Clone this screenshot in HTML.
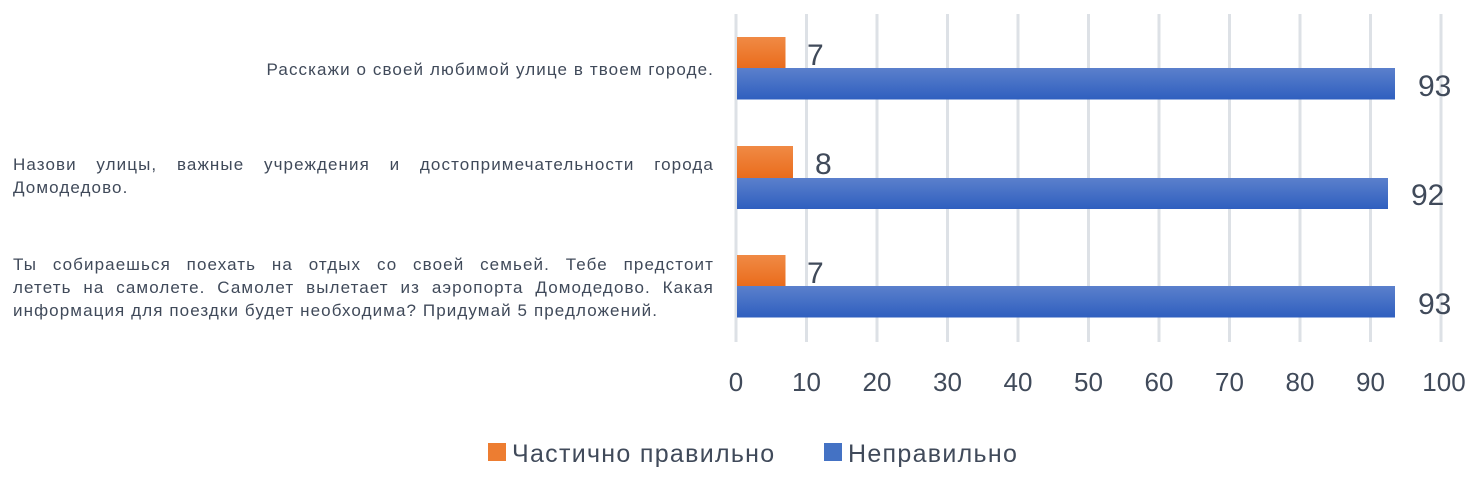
<!DOCTYPE html>
<html><head><meta charset="utf-8"><style>
body{margin:0;background:#fff;width:1474px;height:478px;overflow:hidden;font-family:"Liberation Sans","DejaVu Sans",sans-serif}
.lab{position:absolute;font-size:17px;line-height:23px;color:#404a5a;letter-spacing:1.1px}
.j{text-align:justify;text-align-last:justify}
</style></head><body>
<svg width="1474" height="478" style="position:absolute;left:0;top:0">
<defs>
<linearGradient id="b" x1="0" y1="0" x2="0" y2="1"><stop offset="0" stop-color="#5b80cc"/><stop offset="1" stop-color="#2f5fbf"/></linearGradient>
<linearGradient id="o" x1="0" y1="0" x2="0" y2="1"><stop offset="0" stop-color="#f08a45"/><stop offset="1" stop-color="#ea6c1c"/></linearGradient>
</defs>
<g fill="#dde1e6">
<rect x="734.5" y="14" width="3" height="328"/><rect x="805" y="14" width="3" height="328"/><rect x="875.5" y="14" width="3" height="328"/><rect x="946" y="14" width="3" height="328"/><rect x="1016.5" y="14" width="3" height="328"/><rect x="1087" y="14" width="3" height="328"/><rect x="1157.5" y="14" width="3" height="328"/><rect x="1228" y="14" width="3" height="328"/><rect x="1298.5" y="14" width="3" height="328"/><rect x="1369" y="14" width="3" height="328"/><rect x="1439.5" y="14" width="3" height="328"/>
</g>
<rect x="737" y="37" width="48.5" height="31" fill="url(#o)"/>
<rect x="737" y="68" width="658" height="31.5" fill="url(#b)"/>
<rect x="737" y="146" width="56" height="32" fill="url(#o)"/>
<rect x="737" y="178" width="651" height="31" fill="url(#b)"/>
<rect x="737" y="255" width="48.5" height="31" fill="url(#o)"/>
<rect x="737" y="286" width="658" height="31.5" fill="url(#b)"/>
<g font-size="30" fill="#404a5a">
<text x="807" y="65">7</text><text x="1418" y="96">93</text>
<text x="815" y="174">8</text><text x="1411" y="205">92</text>
<text x="807" y="283">7</text><text x="1418" y="314">93</text>
</g>
<g font-size="26" fill="#404a5a" text-anchor="middle">
<text x="736" y="391">0</text><text x="806.5" y="391">10</text><text x="877" y="391">20</text><text x="947.5" y="391">30</text><text x="1018" y="391">40</text><text x="1088.5" y="391">50</text><text x="1159" y="391">60</text><text x="1229.5" y="391">70</text><text x="1300" y="391">80</text><text x="1370.5" y="391">90</text><text x="1444" y="391">100</text>
</g>
<rect x="488" y="443" width="18" height="18" fill="#ed7d31"/>
<text x="512" y="462" font-size="25" letter-spacing="1.3" fill="#404a5a">Частично правильно</text>
<rect x="824" y="443" width="18" height="18" fill="#4472c4"/>
<text x="848" y="462" font-size="25" letter-spacing="1.3" fill="#404a5a">Неправильно</text>
</svg>
<div class="lab" style="left:200px;top:58px;width:514px;text-align:right">Расскажи о своей любимой улице в твоем городе.</div>
<div class="lab" style="left:13px;top:153px;width:701px"><div class="j">Назови улицы, важные учреждения и достопримечательности города</div><div>Домодедово.</div></div>
<div class="lab" style="left:13px;top:253px;width:701px"><div class="j">Ты собираешься поехать на отдых со своей семьей. Тебе предстоит</div><div class="j">лететь на самолете. Самолет вылетает из аэропорта Домодедово. Какая</div><div>информация для поездки будет необходима? Придумай 5 предложений.</div></div>
</body></html>
